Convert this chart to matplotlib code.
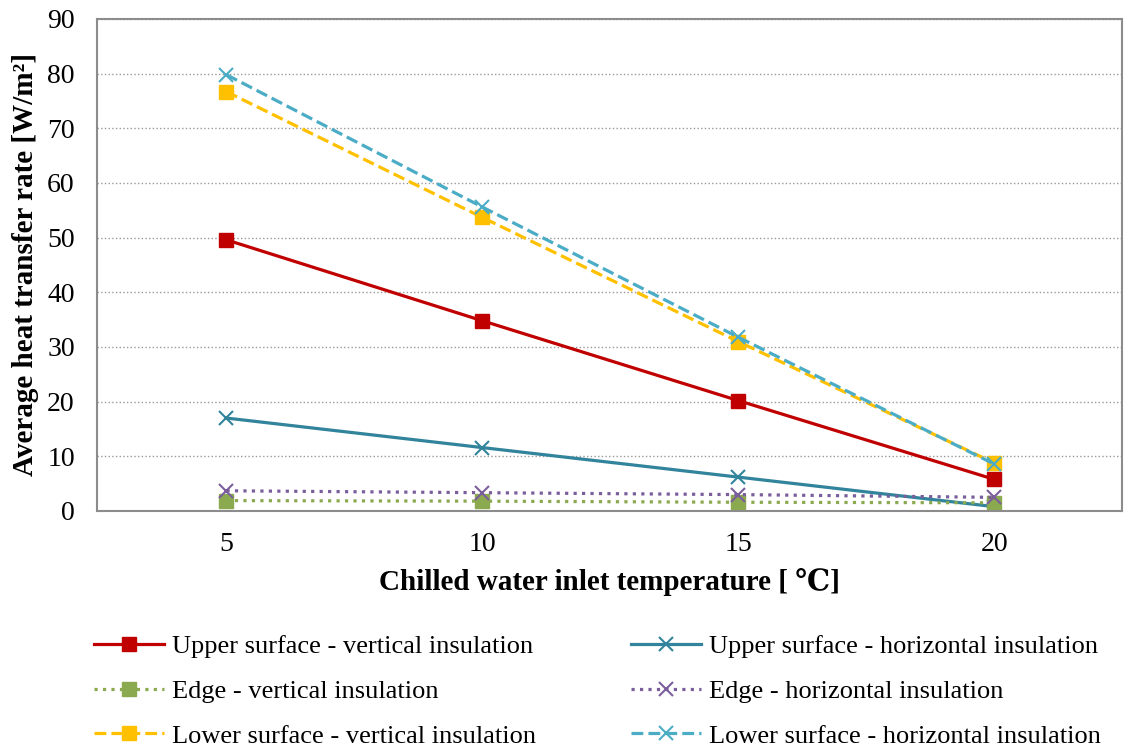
import matplotlib.pyplot as plt

temps = [5, 10, 15, 20]
upper_vert = [49.6, 34.8, 20.2, 5.8]
upper_horz = [17.0, 11.6, 6.2, 0.8]
edge_vert = [1.9, 1.8, 1.6, 1.5]
edge_horz = [3.7, 3.35, 3.0, 2.5]
lower_vert = [76.7, 53.7, 31.0, 8.8]
lower_horz = [79.8, 55.6, 31.8, 8.6]

plt.rcParams['font.family'] = ['Liberation Serif', 'DejaVu Serif']

fig = plt.figure(figsize=(11.24, 7.46), dpi=100)
ax = fig.add_axes([97 / 1124, 1 - 511 / 746, 1025 / 1124, 492 / 746])

series = [
    (upper_vert, 'Upper surface - vertical insulation', '#C00000', '-', 's'),
    (upper_horz, 'Upper surface - horizontal insulation', '#31849B', '-', 'x'),
    (edge_vert, 'Edge - vertical insulation', '#8BA94F', ':', 's'),
    (edge_horz, 'Edge - horizontal insulation', '#7A5E9C', ':', 'x'),
    (lower_vert, 'Lower surface - vertical insulation', '#FFC000', '--', 's'),
    (lower_horz, 'Lower surface - horizontal insulation', '#4BACC6', '--', 'x'),
]
handles = {}
for vals, label, color, ls, mk in series:
    if mk == 's':
        h, = ax.plot(temps, vals, color=color, ls=ls, lw=2.3, marker='s',
                     markersize=10.5, markeredgecolor=color, label=label)
    else:
        h, = ax.plot(temps, vals, color=color, ls=ls, lw=2.3, marker='x',
                     markersize=10.5, markeredgewidth=1.5, label=label)
    handles[label] = h

ax.set_xlim(2.47, 22.5)
ax.set_ylim(0, 90)
ax.set_xticks(temps)
ax.set_yticks(range(0, 91, 10))
ax.tick_params(axis='both', length=0, labelsize=20, colors='black')
ax.tick_params(axis='x', pad=15)
ax.tick_params(axis='y', pad=16)
ax.grid(axis='y', ls=':', color='#999999', lw=1)
ax.set_axisbelow(True)
for sp in ax.spines.values():
    sp.set_color('#8c8c8c')
    sp.set_linewidth(1.5)

ax.set_xlabel('Chilled water inlet temperature [ \u2103]', fontsize=21,
              fontweight='bold')
ax.set_ylabel('Average heat transfer rate [W/m\u00b2]', fontsize=21,
              fontweight='bold')
ax.xaxis.set_label_coords(0.5, -0.115)
ax.yaxis.set_label_coords(-0.057, 0.5)

order = [series[i][1] for i in (0, 2, 4, 1, 3, 5)]
ax.legend([handles[l] for l in order], order, loc='upper left',
          bbox_to_anchor=(94 / 1124, 1 - 635 / 746),
          bbox_transform=fig.transFigure, borderpad=0, borderaxespad=0,
          ncol=2, frameon=False, fontsize=19,
          handlelength=2.65, columnspacing=3.6, labelspacing=0.8,
          handletextpad=0.3)

fig.savefig('out.png', dpi=100)
